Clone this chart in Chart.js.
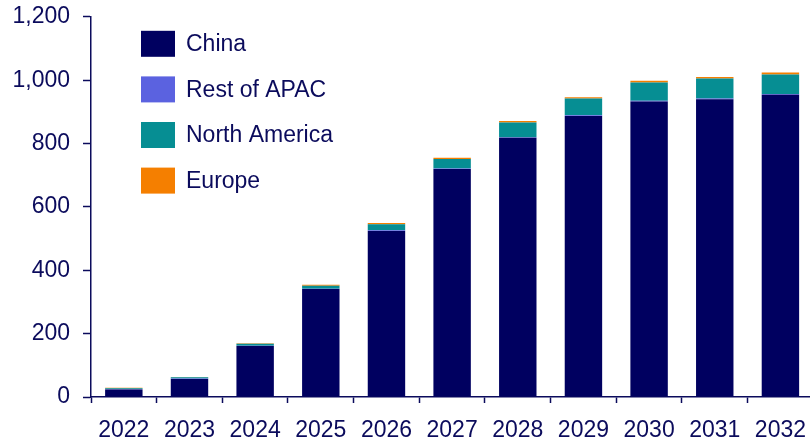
<!DOCTYPE html>
<html>
<head>
<meta charset="utf-8">
<script src="https://cdn.jsdelivr.net/npm/chart.js@4.4.1/dist/chart.umd.min.js"></script>
<style>
  html, body { margin: 0; padding: 0; background: #ffffff; overflow: hidden; }
  #wrap { width: 810px; height: 442px; overflow: hidden; position: relative; }
  #box { width: 820px; height: 452px; position: absolute; left: 0; top: -10px; }
</style>
</head>
<body>
<div id="wrap"><div id="box"><canvas id="chart"></canvas></div></div>
<script>
// Annual volumes by region, stacked
const years = ['2022', '2023', '2024', '2025', '2026', '2027', '2028', '2029', '2030', '2031', '2032'];
const china        = [24, 57, 161, 341, 524, 720, 818, 887, 933, 940, 954];
const restOfApac   = [1, 1, 1, 1, 2, 1, 2, 2, 2, 2, 2];
const northAmerica = [3, 4, 6, 9, 19, 30, 46, 53, 58, 63, 62];
const europe       = [1, 1, 2, 3, 4, 4, 5, 4, 5, 5, 6];

const yTicks = [0, 200, 400, 600, 800, 1000, 1200];

const navy = '#0b0b5c';
const fontFamily = '"Liberation Sans", Arial, sans-serif';

// Vertical legend drawn inside the plot area, top-left
const insideLegend = {
  id: 'insideLegend',
  afterDraw(chart) {
    const ctx = chart.ctx;
    const area = chart.chartArea;
    const x0 = area.left + 50;
    const y0 = area.top + 14;
    const step = 45.6;
    ctx.save();
    ctx.font = '23px ' + fontFamily;
    ctx.textBaseline = 'middle';
    ctx.textAlign = 'left';
    chart.data.datasets.forEach((ds, i) => {
      const y = y0 + i * step;
      ctx.fillStyle = ds.backgroundColor;
      ctx.fillRect(x0, y, 34, 26);
      ctx.fillStyle = navy;
      ctx.fillText(ds.label, x0 + 45, y + 14);
    });
    ctx.restore();
  }
};

new Chart(document.getElementById('chart'), {
  type: 'bar',
  data: {
    labels: years,
    datasets: [
      { label: 'China', data: china, backgroundColor: '#000060' },
      { label: 'Rest of APAC', data: restOfApac, backgroundColor: '#5b62e0' },
      { label: 'North America', data: northAmerica, backgroundColor: '#068e93' },
      { label: 'Europe', data: europe, backgroundColor: '#f57f00' }
    ]
  },
  options: {
    responsive: true,
    maintainAspectRatio: false,
    animation: false,
    layout: { padding: { top: 2, right: 0, bottom: 0, left: 0 } },
    datasets: {
      bar: { categoryPercentage: 1.0, barPercentage: 0.57, borderWidth: 0 }
    },
    plugins: {
      legend: { display: false },
      tooltip: { enabled: false }
    },
    scales: {
      x: {
        stacked: true,
        grid: {
          display: true,
          offset: true,
          drawOnChartArea: false,
          drawTicks: true,
          tickLength: 6,
          tickWidth: 1.5,
          color: navy
        },
        border: { display: true, color: navy, width: 1.5 },
        ticks: {
          color: navy,
          font: { family: fontFamily, size: 23 },
          padding: 14,
          maxRotation: 0,
          autoSkip: false
        },
        afterFit(scale) { scale.height = 45; }
      },
      y: {
        stacked: true,
        min: 0,
        max: 1200,
        afterBuildTicks(scale) { scale.ticks = yTicks.map(v => ({ value: v })); },
        grid: {
          display: true,
          drawOnChartArea: false,
          drawTicks: true,
          tickLength: 8,
          tickWidth: 1.5,
          color: navy
        },
        border: { display: true, color: navy, width: 1.5 },
        ticks: {
          color: navy,
          font: { family: fontFamily, size: 23 },
          padding: 13,
          callback: v => v.toLocaleString('en-US')
        },
        afterFit(scale) { scale.width = 91; }
      }
    }
  },
  plugins: [insideLegend]
});
</script>
</body>
</html>
